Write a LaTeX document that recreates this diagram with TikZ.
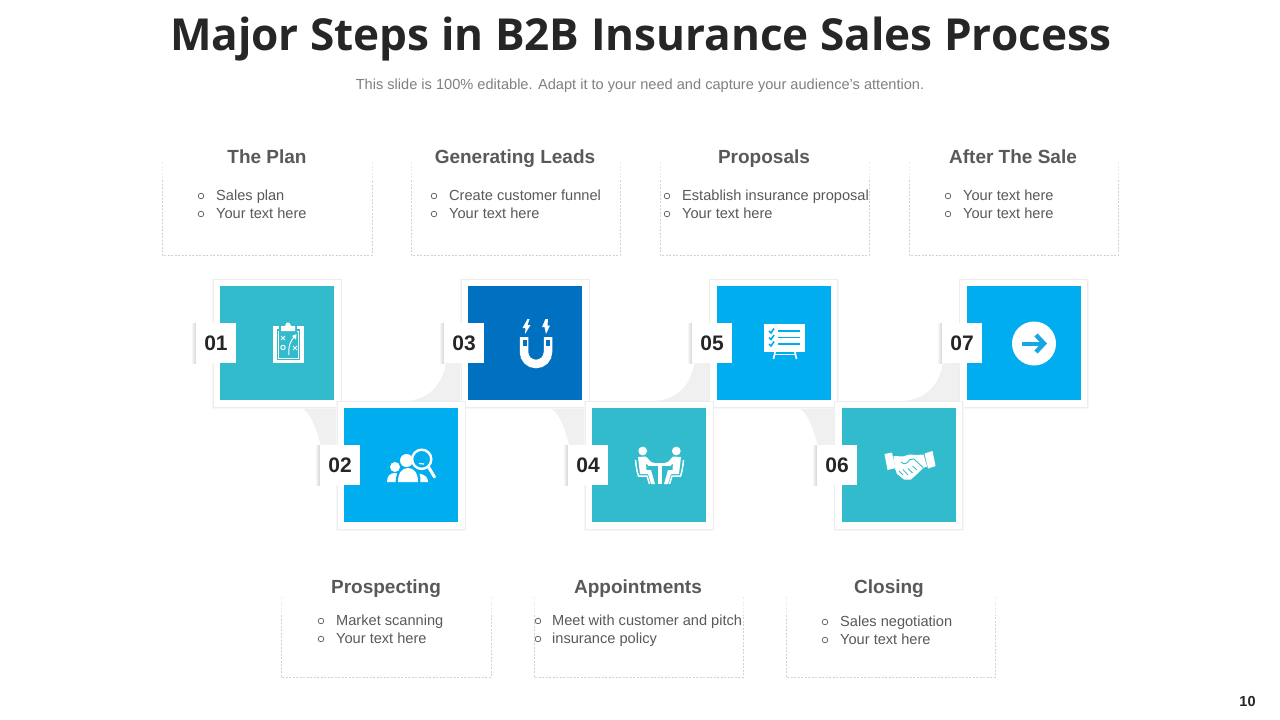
\documentclass[tikz,border=0pt]{standalone}
\usepackage{fontspec}
\setmainfont{Liberation Sans}
\newfontfamily\titlefont{Open Sans}[BoldFont={Open Sans Bold}]
\definecolor{tealc}{HTML}{31BBCD}
\definecolor{skyc}{HTML}{00AEEF}
\definecolor{arrowc}{HTML}{18A6E4}
\definecolor{deepc}{HTML}{0070C0}
\definecolor{headc}{HTML}{595959}
\definecolor{swoosh}{HTML}{F0F0F0}
\definecolor{dashc}{HTML}{D2D2D2}
\definecolor{dashfaint}{HTML}{ECECEC}
\newcommand{\fs}[1]{\fontsize{#1}{#1}\selectfont}
\tikzset{
 x=1pt,y=-1pt,
 outercard/.style={fill=white,draw=black!7,line width=.8pt,minimum width=128pt,minimum height=128pt,inner sep=0},
 innercard/.style={minimum width=114pt,minimum height=113.5pt,inner sep=0},
 badge/.style={fill=white,minimum width=40pt,minimum height=40pt,inner sep=0,font=\bfseries\fs{21},text=black!85},
 heading/.style={font=\bfseries\fs{19},text=headc,anchor=base,inner sep=0},
 bodytext/.style={font=\fs{14.6},text=headc,anchor=base west,inner sep=0},
 bulletdot/.style={circle,draw=headc,line width=.7pt,minimum size=5.6pt,inner sep=0},
 dashbox/.style={draw=dashc,dashed,dash pattern=on 2pt off 1.5pt,line width=.6pt},
 line/.style={draw=white,line width=#1},
}
\newcommand{\stepcard}[6]{%
 \fill[black!3] (#2-65,#3-64) rectangle (#2+65,#3+66);
 \node[outercard] (o#1) at (#2,#3) {};
 \node[innercard,fill=#4] (i#1) at (#2,#3) {};
 \shade[left color=white,right color=black!17] (#6-25,#3-20) rectangle (#6-20,#3+20);
 \node[badge] (b#1) at (#6,#3) {#5\hspace{4.5pt}};
}
\newcommand{\infobox}[9]{%
 \draw[dashbox,draw=dashfaint] (#2,#4) -- (#2,#4+18) (#3,#4) -- (#3,#4+18);
 \draw[dashbox] (#2,#4+18) -- (#2,#5) -- (#3,#5) -- (#3,#4+18);
 \node[bulletdot] (d#1a) at (#6,#8+1) {};
 \node[bulletdot] (d#1b) at (#6,#9+1) {};
}
\newcommand{\swooshes}[1]{%
 \fill[swoosh] (300+#1,407) .. controls (312+#1,412) and (317+#1,432) .. (321+#1,446) -- (338+#1,446) -- (338+#1,407) -- cycle;
 \fill[swoosh] (446+#1,362) .. controls (443+#1,385) and (428+#1,401) .. (403+#1,401) -- (462+#1,402) -- (462+#1,362) -- cycle;
}
\begin{document}
\begin{tikzpicture}
\useasboundingbox (0,0) rectangle (1280,720);
\fill[white] (0,0) rectangle (1280,720);

\node[font=\titlefont\bfseries\fs{44.1},text=black!85,inner sep=0,anchor=base] (title) at (640.5,50) {Major Steps in B2B Insurance Sales Process};
\node[font=\fs{14.6},text=black!50,inner sep=0] (subtitle) at (640,86) {This slide is 100\% editable. Adapt it to your need and capture your audience’s attention.};
\node[font=\bfseries\fs{14.5},text=black!85,inner sep=0] (page) at (1247.5,702) {10};

\swooshes{0}
\swooshes{248.5}
\swooshes{497}

\stepcard{1}{277}{343}{tealc}{01}{216}
\stepcard{3}{525}{343}{deepc}{03}{464}
\stepcard{5}{773.5}{343}{skyc}{05}{712}
\stepcard{7}{1023.5}{343}{skyc}{07}{962}
\stepcard{2}{401}{465}{skyc}{02}{340}
\stepcard{4}{649}{465}{tealc}{04}{588}
\stepcard{6}{898.5}{465}{tealc}{06}{837}

\infobox{p1}{162}{372}{162}{255}{201}{216}{195}{213}
\node[heading] (h1) at (267,163.5) {The Plan};
\node[bodytext] (t1a) at (216,200) {Sales plan};
\node[bodytext] (t1b) at (216,218) {Your text here};

\infobox{p2}{411}{620}{162}{255}{434}{449}{195}{213}
\node[heading] (h2) at (515,163.5) {Generating Leads};
\node[bodytext] (t2a) at (449,200) {Create customer funnel};
\node[bodytext] (t2b) at (449,218) {Your text here};

\infobox{p3}{660}{869}{162}{255}{667}{682}{195}{213}
\node[heading] (h3) at (764,163.5) {Proposals};
\node[bodytext] (t3a) at (682,200) {Establish insurance proposal};
\node[bodytext] (t3b) at (682,218) {Your text here};

\infobox{p4}{909}{1118}{162}{255}{948}{963}{195}{213}
\node[heading] (h4) at (1013,163.5) {After The Sale};
\node[bodytext] (t4a) at (963,200) {Your text here};
\node[bodytext] (t4b) at (963,218) {Your text here};

\infobox{p5}{281}{491}{597}{677}{321}{336}{620}{638}
\node[heading] (h5) at (386,593.5) {Prospecting};
\node[bodytext] (t5a) at (336,625) {Market scanning};
\node[bodytext] (t5b) at (336,643) {Your text here};

\infobox{p6}{534}{743}{597}{677}{538}{552}{620}{638}
\node[heading] (h6) at (638,593.5) {Appointments};
\node[bodytext] (t6a) at (552,625) {Meet with customer and pitch};
\node[bodytext] (t6b) at (552,643) {insurance policy};

\infobox{p7}{786}{995}{597}{677}{825}{840}{621}{639}
\node[heading] (h7) at (889,593.5) {Closing};
\node[bodytext] (t7a) at (840,626) {Sales negotiation};
\node[bodytext] (t7b) at (840,644) {Your text here};

% ---------- icon 01 clipboard
\fill[white] (273,326) rectangle (303.5,363);
\fill[tealc] (276.5,329) rectangle (300,359.5);
\draw[line=.7pt] (278,331) rectangle (298.5,358);
\fill[tealc] (279,326) rectangle (297,332.5);
\fill[white] (281,331) -- (281,326) -- (285,326) .. controls (286,321) and (290,321) .. (291,326) -- (295,326) -- (295,331) -- cycle;
\draw[line=1pt] (281,336) -- (285,340) (285,336) -- (281,340);
\draw[line=1pt] (293,346) -- (297,350) (297,346) -- (293,350);
\draw[line=1pt] (283,347.5) circle (2.2);
\draw[line=1pt] (289,355) .. controls (288,347) and (290,341) .. (295,336);
\fill[white] (296.5,334) -- (292,336) -- (296,339.5) -- cycle;

% ---------- icon 02 people + magnifier
\fill[white] (406.5,460.5) circle (6.5);
\fill[white] (398,482) .. controls (398,473) and (402,468) .. (408,468) .. controls (414,468) and (418,473) .. (418,482) -- cycle;
\fill[white] (395,467) circle (5);
\fill[white] (387,482) .. controls (387,476) and (390,473) .. (395,473) .. controls (396,473) and (397,473.5) .. (397,474) .. controls (396,476.5) and (395.5,480) .. (395.5,482) -- cycle;
\fill[white] (428,482) .. controls (428,478) and (426,475) .. (419.5,473.5) .. controls (420.5,476) and (420.5,479) .. (420.5,482) -- cycle;
\fill[skyc] (421.7,459.3) circle (10.5);
\draw[line=2.4pt] (421.7,459.3) circle (9.6);
\draw[line=3pt,line cap=round] (428.5,467) -- (434.5,477);
\draw[line=1.2pt] (419,463.5) -- (424,464);

% ---------- icon 03 magnet
\draw[line=8.5pt] (524,337) -- (524,352) arc[start angle=180,end angle=0,radius=12] -- (548,337);
\fill[deepc] (522.5,340) rectangle (526.5,346);
\fill[deepc] (545.5,340) rectangle (549.5,346);
\fill[white] (527.5,319) -- (522.5,328) -- (525.5,328) -- (525,334) -- (530.5,325) -- (527.5,325) -- (529.5,319) -- cycle;
\fill[white] (545.5,319) -- (542,327) -- (544.5,327) -- (546,334) -- (550,325.5) -- (547.5,325.5) -- (548,319) -- cycle;

% ---------- icon 04 meeting
\foreach \mirror/\shiftx in {1/0,-1/1319}{
\begin{scope}[shift={(\shiftx,0)},xscale=\mirror]
\fill[white] (642.7,451) circle (4.4);
\fill[white] (638,457) -- (646,456.5) -- (651,462) -- (655,463) -- (655,465.5) -- (648.5,465.5) -- (646,463.5) -- (646.5,470) -- (651,470) -- (655,484) -- (651,484) -- (648,474) -- (640,474) -- cycle;
\draw[line=1.5pt] (635.5,460) .. controls (636,466) and (637,472) .. (638.5,476) -- (647,476) -- (649.5,484);
\end{scope}}
\fill[white] (648,463) rectangle (671,466);
\fill[white] (657.5,466) rectangle (661.5,484);

% ---------- icon 05 presentation board
\fill[white] (764,324) rectangle (805,351.5);
\draw[line=1.6pt] (775,352) -- (773.5,359);
\draw[line=1.6pt] (795,352) -- (796.5,359);
\draw[line=1.4pt] (775,354.5) -- (795,354.5);
\foreach \yy in {331,337.5,344}{
 \draw[draw=skyc,line width=1.6pt] (769,\yy) -- (771,\yy+2) -- (774,\yy-2.5);
 \draw[draw=skyc,line width=1.4pt] (778,\yy) -- (800,\yy);
}

% ---------- icon 06 handshake
\fill[white] (884.5,454) -- (892,452.5) -- (895.5,468) -- (887.5,470) -- cycle;
\fill[white] (924.5,453.5) -- (932.5,451) -- (935.5,466) -- (928,468.5) -- cycle;
\fill[white] (893.5,456) -- (903,456.5) -- (909,454.5) -- (917,455) -- (923.5,454.5) -- (927,466.5) -- (923,468) -- (917,474) -- (911,479.5) -- (904,479.5) -- (897,474) -- (895,468.5) -- cycle;
\draw[draw=tealc,line width=.9pt] (901,462) .. controls (904,465) and (907,464) .. (910,459.5) -- (914,459) -- (923,467.5);
\draw[draw=tealc,line width=.8pt] (899,471) -- (903,475) (903,469.5) -- (908,475) (908,468.5) -- (912.5,473) (912.5,466) -- (917,470);

% ---------- icon 07 arrow in circle
\fill[white] (1034,343.5) circle (22);
\draw[draw=arrowc,line width=4pt] (1022,343.5) -- (1043,343.5);
\draw[draw=arrowc,line width=4.4pt] (1036,335) -- (1044,343.5) -- (1036,352);
\end{tikzpicture}
\end{document}
